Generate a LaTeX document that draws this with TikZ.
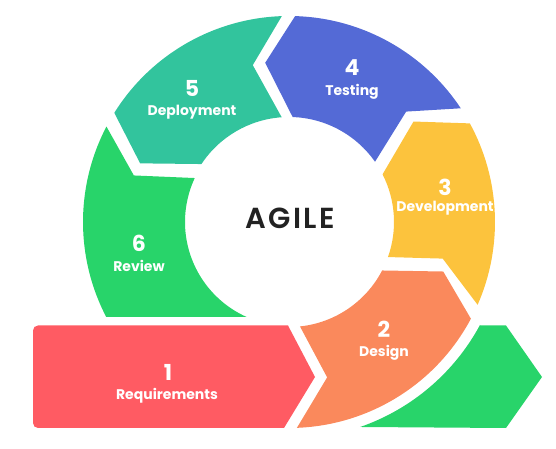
\documentclass[tikz,border=0pt]{standalone}
\usepackage{fontspec}
\setmainfont{Poppins}
\newfontfamily\agilefont[LetterSpace=8]{Poppins SemiBold}
\definecolor{reqred}{HTML}{FF5B63}
\definecolor{desorange}{HTML}{FA895C}
\definecolor{devyellow}{HTML}{FCC33D}
\definecolor{testblue}{HTML}{546AD6}
\definecolor{depteal}{HTML}{32C49D}
\definecolor{revgreen}{HTML}{28D46A}
\definecolor{agiletext}{HTML}{222222}
\begin{document}
\begin{tikzpicture}[x=1pt, y=1pt,
    stepnum/.style={text=white, font=\bfseries\fontsize{22}{22}\selectfont},
    steplabel/.style={text=white, font=\bfseries\fontsize{14}{14}\selectfont}]

    \useasboundingbox (0, 0) rectangle (556, 449);

    \fill[reqred, rounded corners=5] (160, 123.5) -- (33, 123.5) -- (33, 21) -- (160, 21)
       [sharp corners] -- (284, 21) -- (315, 72) -- (288, 123.5) -- cycle;

    \begin{scope}[shift={(289, 227)}]
     \fill[desorange] (-87.8:206) arc[start angle=-87.8, end angle=-28, radius=206]
       -- (-17.8:162) -- (-27.5:105) arc[start angle=-27.5, end angle=-84, radius=105]
       -- (-76.2:160) -- cycle;
     \fill[devyellow] (-23.7:206) arc[start angle=-23.7, end angle=28.6, radius=206]
       -- (38.9:160) -- (27:105) arc[start angle=27, end angle=-19.5, radius=105]
       -- (-13.4:158) -- cycle;
     \fill[testblue] (33.5:206) arc[start angle=33.5, end angle=88.3, radius=206]
       -- (98.5:161) -- (88:105) arc[start angle=88, end angle=35, radius=105]
       -- (43.3:161) -- cycle;
     \fill[depteal] (92:206) arc[start angle=92, end angle=148, radius=206]
       -- (158.5:160) -- (146.5:105) arc[start angle=146.5, end angle=94, radius=105]
       -- (103:161) -- cycle;
     \fill[revgreen] (152.4:206) arc[start angle=152.4, end angle=207.46, radius=206]
       -- (245.98:104) arc[start angle=245.98, end angle=155, radius=104]
       -- (163.3:162) -- cycle;
     \fill[revgreen] (191, -103.5) -- (217, -103.5) -- (253, -155) -- (217, -206)
       -- (-70.85:217) arc[start angle=-70.85, end angle=-28.3, radius=217] -- cycle;
    \end{scope}

    \node[text=agiletext, font=\agilefont\fontsize{29}{29}\selectfont] (agile) at (290, 231){AGILE};

    \node[stepnum] (n1) at (168, 77){1};
    \node[steplabel] (l1) at (167, 53){Requirements};
    \node[stepnum] (n2) at (384, 120){2};
    \node[steplabel] (l2) at (384, 96){Design};
    \node[stepnum] (n3) at (445, 262){3};
    \node[steplabel] (l3) at (445, 241){Development};
    \node[stepnum] (n4) at (352, 381){4};
    \node[steplabel] (l4) at (352, 357){Testing};
    \node[stepnum] (n5) at (192, 361){5};
    \node[steplabel] (l5) at (192, 337){Deployment};
    \node[stepnum] (n6) at (139, 206){6};
    \node[steplabel] (l6) at (139, 183){Review};

  \end{tikzpicture}
\end{document}
